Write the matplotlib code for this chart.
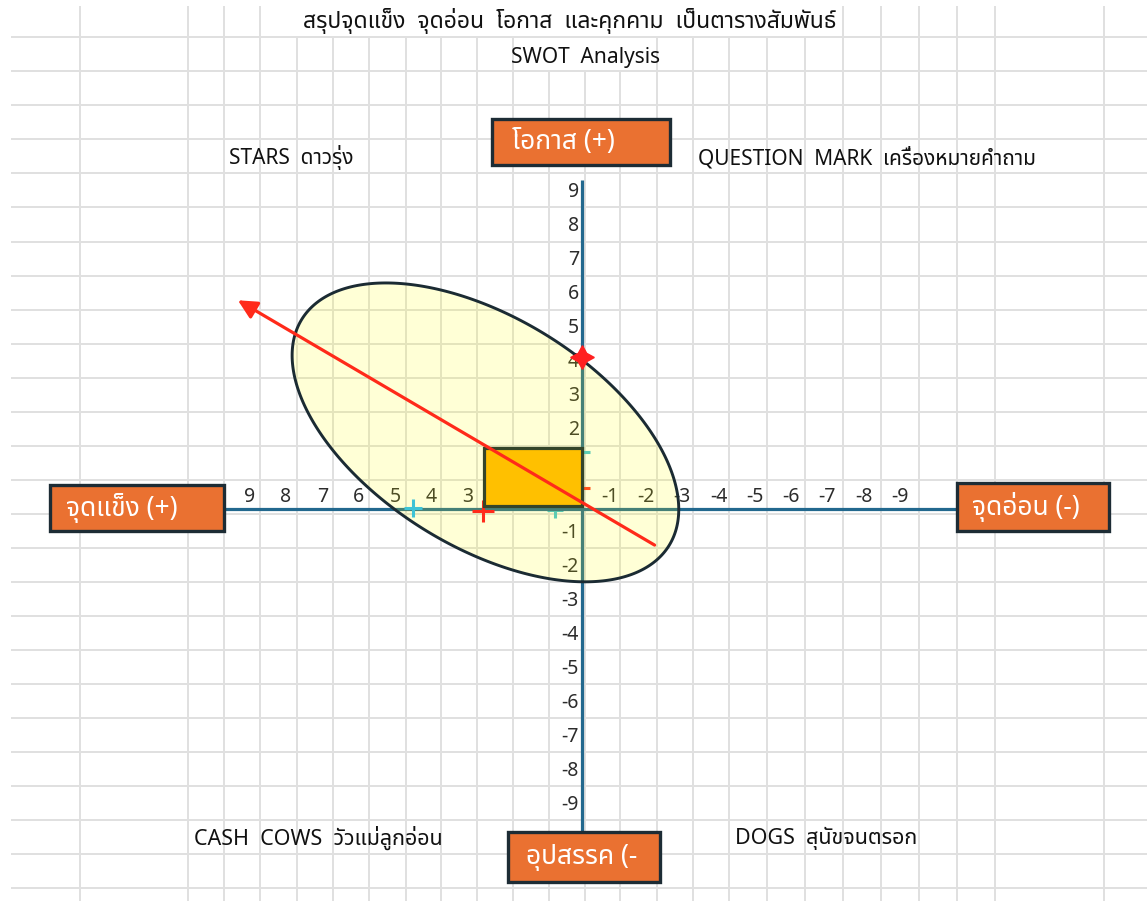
import numpy as np
import matplotlib
matplotlib.use("Agg")
import matplotlib.pyplot as plt
from matplotlib import font_manager as fm
from matplotlib.ft2font import FT2Font
from matplotlib.patches import Rectangle, Polygon
from matplotlib.colors import to_rgba

# ---------------- data ----------------
title_text = "สรุปจุดแข็ง  จุดอ่อน  โอกาส  และคุกคาม  เป็นตารางสัมพันธ์"
subtitle_text = "SWOT  Analysis"
quadrant_labels = ["STARS  ดาวรุ่ง", "QUESTION  MARK  เครื่องหมายคำถาม",
                   "CASH  COWS  วัวแม่ลูกอ่อน", "DOGS  สุนัขจนตรอก"]
box_labels = ["โอกาส (+)", "จุดแข็ง (+)", "จุดอ่อน (-)", "อุปสรรค (-"]

x_tick_values = [9, 8, 7, 6, 5, 4, 3, 2, 1, -1, -2, -3, -4, -5, -6, -7, -8, -9]
y_tick_values = [9, 8, 7, 6, 5, 4, 3, 2, 1, -1, -2, -3, -4, -5, -6, -7, -8, -9]

axis_x_extent = [9.86, -10.33]   # strength(+) ... weakness(-)
axis_y_extent = [9.66, -9.49]    # opportunity(+) ... threat(-)

rect_x = [0.0, 2.7]              # strength range
rect_y = [0.1, 1.8]              # opportunity range

trend_start = [-2.0, -1.06]
trend_end = [9.48, 6.13]

ellipse_center = [2.66, 2.25]
ellipse_u = [-5.06, -3.32]
ellipse_v = [1.66, -2.87]

red_big_x, red_big_y = [2.73], [-0.06]
red_small_x, red_small_y = [0.0], [0.62]
red_star_x, red_star_y = [0.0], [4.46]
cyan_big_x, cyan_big_y = [4.66], [0.03]
cyan_small_x, cyan_small_y = [0.74, 0.0], [-0.03, 1.67]

# ---------------- fonts ----------------
def find_thai_fonts():
    found = []
    for f in fm.fontManager.ttflist:
        try:
            cmap = FT2Font(f.fname).get_charmap()
        except Exception:
            continue
        if all(ord(c) in cmap for c in "กจดสอแ"):
            if f.name not in found:
                found.append(f.name)
    return found

thai = find_thai_fonts()
pref = ["Noto Sans Thai", "Noto Sans Thai UI", "Sarabun", "Loma", "Garuda",
        "Tlwg Typo", "Umpush", "Waree", "Kinnari", "Norasi"]
chosen = None
for p in pref:
    if p in thai:
        chosen = p
        break
if chosen is None and thai:
    chosen = thai[0]
families = ([chosen] if chosen else []) + ["DejaVu Sans"]
plt.rcParams["font.family"] = families

# ---------------- figure ----------------
W, H = 1147, 901
fig = plt.figure(figsize=(W / 100, H / 100), dpi=100, facecolor="white")

# spreadsheet background (pixel coordinates)
bg = fig.add_axes([0, 0, 1, 1])
bg.set_xlim(0, W)
bg.set_ylim(H, 0)
bg.axis("off")
GRID = "#E0E0E0"
row_y = 37.2 + 34.05 * np.arange(26)
col_x = [80, 188, 224, 260, 297, 333, 369, 406, 441, 477, 513, 549, 585,
         620, 657, 693, 729, 767, 805, 843, 881, 919, 957, 995, 1104]
for y in row_y:
    bg.plot([11, W], [y, y], color=GRID, lw=1.4, zorder=0, solid_capstyle="butt")
for x in col_x:
    top = 6
    if 260 < x < 843:
        top = row_y[0]
    if 513 < x < 657:
        top = row_y[1]
    bg.plot([x, x], [top, H], color=GRID, lw=1.4, zorder=0, solid_capstyle="butt")

TXT = "#111111"
bg.text(570, 21, title_text, ha="center", va="center", fontsize=16.5, color=TXT,
        fontweight="medium")
bg.text(586, 57, subtitle_text, ha="center", va="center", fontsize=15, color=TXT)
bg.text(229, 158, quadrant_labels[0], ha="left", va="center", fontsize=15, color=TXT)
bg.text(698, 158, quadrant_labels[1], ha="left", va="center", fontsize=15, color=TXT)
bg.text(194, 838, quadrant_labels[2], ha="left", va="center", fontsize=15.5, color=TXT)
bg.text(735, 838, quadrant_labels[3], ha="left", va="center", fontsize=15.5, color=TXT)

# chart axes (data coordinates)
OX, OY, UX, UY = 582.0, 509.0, 36.3, 34.05
ax = fig.add_axes([0, 0, 1, 1])
ax.patch.set_alpha(0)
ax.set_xlim(OX / UX, (OX - W) / UX)
ax.set_ylim((OY - H) / UY, OY / UY)
ax.axis("off")

AXC = "#22688E"
ax.plot(axis_x_extent, [0, 0], color=AXC, lw=2.3, zorder=2, solid_capstyle="butt")
ax.plot([0, 0], axis_y_extent, color=AXC, lw=2.3, zorder=2, solid_capstyle="butt")

LBL = "#2c2c2c"
for v in x_tick_values:
    ax.annotate(str(v), (v, 0), xytext=(0, 12 * 0.72), textcoords="offset points",
                ha="right", va="center", fontsize=14, color=LBL, zorder=1.8)
for v in y_tick_values:
    ax.annotate(str(v), (0, v), xytext=(-3 * 0.72, 10.5 * 0.72), textcoords="offset points",
                ha="right", va="center", fontsize=14, color=LBL, zorder=1.8)

# small axis markers (partly hidden)
ax.plot(cyan_small_x, cyan_small_y, linestyle="none", marker="+", ms=11, mew=2.2,
        color="#3EC3D6", zorder=1.5)
ax.plot(red_small_x, red_small_y, linestyle="none", marker="+", ms=11, mew=2.2,
        color="#FF3322", zorder=1.5)

# ellipse
t = np.linspace(0, 2 * np.pi, 400)
ex = ellipse_center[0] + ellipse_u[0] * np.cos(t) + ellipse_v[0] * np.sin(t)
ey = ellipse_center[1] + ellipse_u[1] * np.cos(t) + ellipse_v[1] * np.sin(t)
ax.add_patch(Polygon(np.column_stack([ex, ey]), closed=True,
                     facecolor=to_rgba("#FFFF00", 0.16), edgecolor="#1B2B33",
                     lw=2.1, zorder=3))

ax.plot(red_big_x, red_big_y, linestyle="none", marker="+", ms=16, mew=2.2,
        color="#FF2A1A", zorder=4)
ax.plot(cyan_big_x, cyan_big_y, linestyle="none", marker="+", ms=13, mew=2.2,
        color="#3EC3D6", zorder=4)

# rectangle
ax.add_patch(Rectangle((rect_x[0], rect_y[0]), rect_x[1] - rect_x[0], rect_y[1] - rect_y[0],
                       facecolor="#FFC000", edgecolor="#34452A", lw=2.3, zorder=5))

# trend arrow
ax.annotate("", xy=trend_end, xytext=trend_start,
            arrowprops=dict(arrowstyle="-|>,head_length=0.6,head_width=0.3",
                            mutation_scale=19, color="#FF2A1A", lw=2.3,
                            shrinkA=0, shrinkB=0), zorder=6)

ax.plot(red_star_x, red_star_y, linestyle="none", marker=(4, 1, 0), ms=17,
        color="#FF2020", mec="#FF2020", zorder=7)

# orange boxes (pixel coordinates, top layer)
top = fig.add_axes([0, 0, 1, 1])
top.patch.set_alpha(0)
top.set_xlim(0, W)
top.set_ylim(H, 0)
top.axis("off")
boxes = [(492, 119, 178, 46, 512), (50, 485, 174, 46, 66),
         (957, 483, 152, 48, 972), (508, 832, 152, 50, 526)]
for (bx, by, bw, bh, tx), lab in zip(boxes, box_labels):
    top.add_patch(Rectangle((bx, by), bw, bh, facecolor="#EA7131",
                            edgecolor="#1D2C35", lw=2.4, zorder=8))
    top.text(tx, by + bh / 2, lab, ha="left", va="center", fontsize=19,
             color="white", fontweight="medium", zorder=9)

fig.savefig("out.png", dpi=100, facecolor="white")
